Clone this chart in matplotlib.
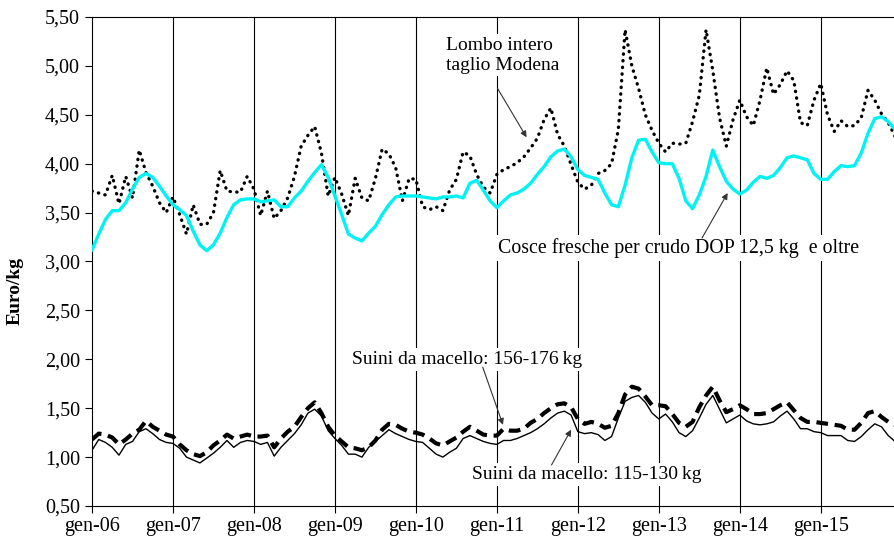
import numpy as np
import matplotlib
matplotlib.use("Agg")
import matplotlib.pyplot as plt
from matplotlib.ticker import FuncFormatter

plt.rcParams['font.family'] = ['Liberation Serif', 'DejaVu Serif']

# monthly prices, gen-06 .. dic-15 (Euro/kg)
lombo = [3.72, 3.70, 3.68, 3.88, 3.59, 3.87, 3.65, 4.14, 3.91, 3.77, 3.60, 3.50,
         3.66, 3.48, 3.28, 3.58, 3.38, 3.38, 3.50, 3.93, 3.72, 3.71, 3.71, 3.87,
         3.74, 3.47, 3.72, 3.44, 3.52, 3.65, 3.87, 4.18, 4.29, 4.38, 4.11, 3.67,
         3.86, 3.69, 3.47, 3.85, 3.65, 3.62, 3.85, 4.15, 4.10, 3.96, 3.62, 3.85,
         3.84, 3.56, 3.53, 3.56, 3.52, 3.73, 3.84, 4.12, 4.08, 3.89, 3.76, 3.70,
         3.89, 3.94, 3.97, 4.01, 4.07, 4.16, 4.26, 4.45, 4.57, 4.30, 4.18, 3.99,
         3.81, 3.74, 3.78, 3.90, 3.93, 4.00, 4.35, 5.37, 5.00, 4.77, 4.50, 4.34,
         4.21, 4.12, 4.21, 4.20, 4.21, 4.43, 4.70, 5.37, 4.95, 4.47, 4.18, 4.45,
         4.65, 4.48, 4.39, 4.65, 4.98, 4.71, 4.81, 4.95, 4.85, 4.42, 4.39, 4.65,
         4.82, 4.50, 4.33, 4.44, 4.38, 4.39, 4.47, 4.75, 4.65, 4.51, 4.42, 4.28]

cosce = [3.12, 3.28, 3.43, 3.52, 3.52, 3.60, 3.74, 3.86, 3.90, 3.86, 3.77, 3.67,
         3.58, 3.53, 3.47, 3.31, 3.17, 3.11, 3.17, 3.29, 3.45, 3.58, 3.63, 3.64,
         3.64, 3.61, 3.62, 3.63, 3.56, 3.56, 3.65, 3.72, 3.82, 3.91, 3.99, 3.86,
         3.67, 3.48, 3.28, 3.24, 3.21, 3.29, 3.36, 3.48, 3.58, 3.66, 3.67, 3.67,
         3.67, 3.66, 3.65, 3.64, 3.66, 3.66, 3.67, 3.65, 3.80, 3.83, 3.73, 3.62,
         3.55, 3.62, 3.68, 3.70, 3.74, 3.80, 3.89, 3.97, 4.07, 4.13, 4.15, 4.07,
         3.94, 3.88, 3.86, 3.84, 3.70, 3.58, 3.56, 3.78, 4.06, 4.24, 4.25, 4.12,
         4.01, 4.00, 4.00, 3.85, 3.62, 3.54, 3.68, 3.87, 4.14, 3.97, 3.82, 3.74,
         3.69, 3.73, 3.81, 3.87, 3.85, 3.88, 3.96, 4.06, 4.08, 4.06, 4.04, 3.90,
         3.84, 3.84, 3.92, 3.98, 3.97, 3.98, 4.11, 4.31, 4.46, 4.48, 4.43, 4.35]

suini_156_176 = [1.18, 1.24, 1.23, 1.20, 1.13, 1.18, 1.24, 1.28, 1.37, 1.31, 1.27, 1.23,
                 1.21, 1.13, 1.07, 1.03, 1.01, 1.05, 1.12, 1.17, 1.23, 1.19, 1.21, 1.23,
                 1.21, 1.21, 1.22, 1.10, 1.19, 1.26, 1.31, 1.41, 1.50, 1.56, 1.45, 1.31,
                 1.22, 1.16, 1.10, 1.09, 1.07, 1.10, 1.17, 1.28, 1.34, 1.33, 1.29, 1.26,
                 1.25, 1.23, 1.19, 1.14, 1.12, 1.16, 1.20, 1.26, 1.31, 1.27, 1.23, 1.22,
                 1.22, 1.29, 1.27, 1.27, 1.29, 1.35, 1.39, 1.45, 1.50, 1.54, 1.55, 1.51,
                 1.39, 1.34, 1.36, 1.34, 1.30, 1.32, 1.45, 1.64, 1.72, 1.70, 1.62, 1.53,
                 1.53, 1.52, 1.44, 1.35, 1.31, 1.36, 1.51, 1.63, 1.72, 1.58, 1.46, 1.49,
                 1.53, 1.49, 1.44, 1.44, 1.45, 1.49, 1.53, 1.56, 1.48, 1.40, 1.36, 1.36,
                 1.35, 1.34, 1.33, 1.32, 1.28, 1.28, 1.35, 1.45, 1.47, 1.41, 1.36, 1.33]

suini_115_130 = [1.07, 1.18, 1.15, 1.10, 1.02, 1.13, 1.16, 1.26, 1.29, 1.24, 1.18, 1.15,
                 1.14, 1.09, 1.00, 0.97, 0.94, 0.99, 1.04, 1.10, 1.17, 1.10, 1.15, 1.17,
                 1.16, 1.13, 1.15, 1.01, 1.10, 1.17, 1.24, 1.33, 1.45, 1.49, 1.42, 1.27,
                 1.19, 1.12, 1.03, 1.03, 1.00, 1.10, 1.16, 1.22, 1.28, 1.24, 1.21, 1.18,
                 1.16, 1.15, 1.09, 1.03, 1.00, 1.05, 1.09, 1.19, 1.22, 1.19, 1.16, 1.14,
                 1.13, 1.17, 1.17, 1.19, 1.22, 1.25, 1.29, 1.34, 1.40, 1.45, 1.47, 1.43,
                 1.26, 1.24, 1.25, 1.23, 1.17, 1.21, 1.40, 1.57, 1.61, 1.63, 1.56, 1.45,
                 1.39, 1.44, 1.36, 1.25, 1.21, 1.27, 1.40, 1.54, 1.63, 1.49, 1.35, 1.39,
                 1.43, 1.37, 1.34, 1.33, 1.34, 1.36, 1.42, 1.47, 1.39, 1.29, 1.29, 1.26,
                 1.25, 1.22, 1.22, 1.22, 1.17, 1.16, 1.21, 1.28, 1.34, 1.31, 1.22, 1.16]

year_labels = ['gen-06', 'gen-07', 'gen-08', 'gen-09', 'gen-10',
               'gen-11', 'gen-12', 'gen-13', 'gen-14', 'gen-15']

months = np.arange(len(cosce))
year_pos = np.arange(len(year_labels)) * 12

fig = plt.figure(figsize=(8.95, 5.40), dpi=100)
ax = fig.add_axes([92 / 895, 34 / 540, 803 / 895, 489 / 540])

for xp in year_pos[1:]:
    ax.axvline(xp, color='black', lw=0.8, zorder=1)

ax.plot(months, lombo, color='black', lw=2.4, linestyle=(0, (0.1, 1.9)),
        dash_capstyle='round', zorder=3)
ax.plot(months, cosce, color='#00f2f2', lw=2.4, zorder=3)
ax.plot(months, suini_156_176, color='black', lw=3.0, linestyle=(0, (2.8, 1.6)), zorder=3)
ax.plot(months, suini_115_130, color='black', lw=1.0, zorder=3)

ax.set_xlim(0, len(cosce) - 1)
ax.set_ylim(0.5, 5.5)
ax.set_xticks(year_pos)
ax.set_xticklabels(year_labels)
ax.set_yticks(np.arange(0.5, 5.51, 0.5))
ax.yaxis.set_major_formatter(FuncFormatter(lambda v, p: f'{v:.2f}'.replace('.', ',')))
ax.tick_params(axis='both', labelsize=14.5, direction='out', length=5, width=0.8)
ax.tick_params(axis='x', pad=3)
ax.spines['right'].set_visible(False)
for s in ['left', 'bottom', 'top']:
    ax.spines[s].set_linewidth(0.8)

ax.set_ylabel('Euro/kg', fontsize=14, fontweight='bold')
ax.yaxis.set_label_coords(-0.085, 0.44)

box = dict(facecolor='white', edgecolor='none', pad=2)
arrow = dict(arrowstyle='-|>', color='#333333', lw=0.8, mutation_scale=9,
             shrinkA=0, shrinkB=0)

ax.text(52.4, 5.11, 'Lombo intero\ntaglio Modena', fontsize=14, ha='left',
        va='center', linespacing=1.25, bbox=box, zorder=4)
ax.annotate('', xy=(64.4, 4.27), xytext=(60.1, 4.77), arrowprops=arrow, zorder=5)

ax.text(60.1, 3.14, 'Cosce fresche per crudo DOP 12,5 kg  e oltre', fontsize=14.3,
        ha='left', va='center', bbox=box, zorder=4)
ax.annotate('', xy=(94.2, 3.70), xytext=(90.4, 3.24), arrowprops=arrow, zorder=5)

ax.text(38.5, 2.00, 'Suini da macello: 156-176\u2009kg', fontsize=14, ha='left',
        va='center', bbox=box, zorder=4)
ax.annotate('', xy=(60.9, 1.33), xytext=(57.9, 1.92), arrowprops=arrow, zorder=5)

ax.text(56.3, 0.82, 'Suini da macello: 115-130\u2009kg', fontsize=14, ha='left',
        va='center', bbox=box, zorder=4)
ax.annotate('', xy=(71.0, 1.28), xytext=(68.1, 0.92), arrowprops=arrow, zorder=5)

fig.savefig('out.png', dpi=100)
